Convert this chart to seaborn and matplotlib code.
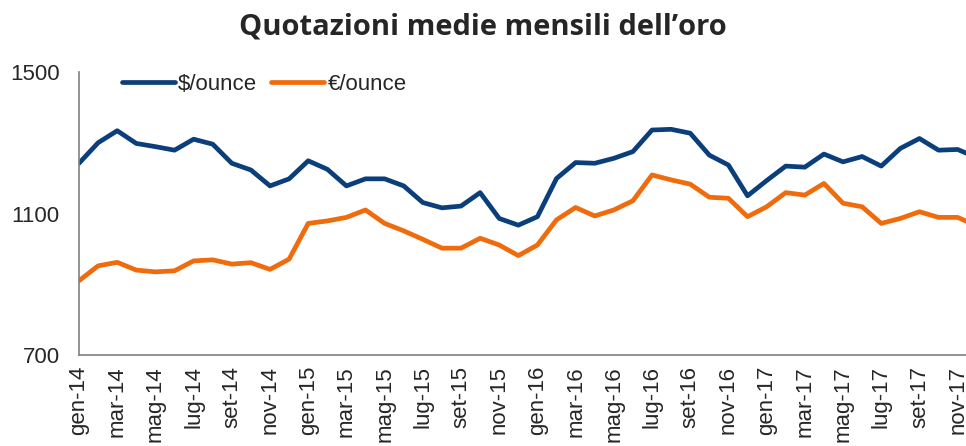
import matplotlib
matplotlib.use("Agg")
import matplotlib.pyplot as plt
import seaborn as sns
import pandas as pd
import numpy as np

months_it = ["gen", "feb", "mar", "apr", "mag", "giu", "lug", "ago", "set", "ott", "nov", "dic"]
years = ["14", "15", "16", "17"]
month_labels = [f"{m}-{y}" for y in years for m in months_it]

usd_ounce = [1242, 1300, 1334, 1298, 1289, 1279, 1310, 1296, 1242, 1223, 1178, 1198,
             1249, 1225, 1178, 1198, 1198, 1178, 1131, 1116, 1121, 1159, 1086, 1067,
             1091, 1199, 1244, 1242, 1256, 1275, 1336, 1338, 1327, 1265, 1237, 1150,
             1193, 1234, 1231, 1268, 1246, 1261, 1234, 1284, 1312, 1279, 1281, 1258]
eur_ounce = [910, 952, 962, 940, 935, 938, 966, 969, 957, 961, 942, 971,
             1072, 1079, 1089, 1110, 1072, 1051, 1027, 1002, 1002, 1030, 1011, 981,
             1011, 1082, 1117, 1093, 1110, 1136, 1209, 1195, 1183, 1146, 1143, 1091,
             1119, 1159, 1152, 1185, 1129, 1119, 1072, 1086, 1105, 1089, 1089, 1065]
series_names = ["$/ounce", "€/ounce"]
y_ticks = [700, 1100, 1500]

df = pd.DataFrame({
    "idx": list(range(len(month_labels))) * 2,
    "value": usd_ounce + eur_ounce,
    "serie": [series_names[0]] * len(usd_ounce) + [series_names[1]] * len(eur_ounce),
})

sns.set_style("white")
plt.rcParams["font.family"] = ["Liberation Sans", "DejaVu Sans"]

fig = plt.figure(figsize=(9.66, 4.46), dpi=100)
ax = fig.add_axes([79 / 966, 91 / 446, 887 / 966, 283 / 446])

palette = {series_names[0]: "#0B3F7C", series_names[1]: "#EF6B0B"}
sns.lineplot(data=df, x="idx", y="value", hue="serie", palette=palette,
             linewidth=3.4, ax=ax, legend=True)

ax.set_xlim(0, 886.5 / 19.09)
ax.set_ylim(700, 1500)
ax.set_yticks(y_ticks)
ax.set_yticklabels([str(v) for v in y_ticks], fontsize=16)
tick_pos = list(range(0, len(month_labels), 2))
ax.set_xticks(tick_pos)
ax.set_xticklabels([month_labels[i] for i in tick_pos], rotation=90, fontsize=16)
ax.tick_params(axis="x", length=5, width=1, color="#808080", direction="out", pad=3)
ax.tick_params(axis="y", length=0, pad=14)
ax.set_xlabel("")
ax.set_ylabel("")

for s in ["top", "right"]:
    ax.spines[s].set_visible(False)
for s in ["left", "bottom"]:
    ax.spines[s].set_color("#808080")
    ax.spines[s].set_linewidth(1.2)

handles, labels = ax.get_legend_handles_labels()
ax.legend(handles, labels, loc="center left", bbox_to_anchor=(0.048, 0.955),
          ncol=2, frameon=False, fontsize=16, handlelength=2.4,
          handletextpad=0.15, columnspacing=0.6, borderpad=0, borderaxespad=0)

fig.text(0.5, 1 - 27 / 446, "Quotazioni medie mensili dell’oro", ha="center", va="center",
         fontsize=21, fontweight="bold", family=["Open Sans", "DejaVu Sans"])

fig.savefig("out.png", dpi=100)
